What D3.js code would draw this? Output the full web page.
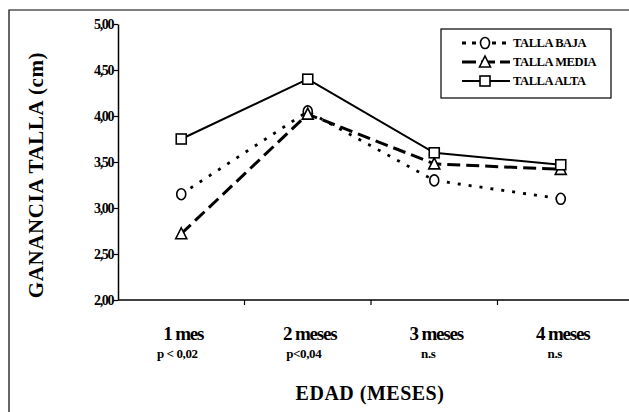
<!DOCTYPE html>
<html><head><meta charset="utf-8">
<script src="https://cdn.jsdelivr.net/npm/d3@7"></script>
<style>
body{margin:0;background:#fff;}
svg text{font-family:"Liberation Serif","Times New Roman","DejaVu Serif",serif !important;font-weight:bold;fill:#000;}
</style></head>
<body><svg id="c" width="629" height="412"></svg>
<script>
const categories = ["1 mes","2 meses","3 meses","4 meses"];
const pLabels = ["p < 0,02","p<0,04","n.s","n.s"];
const tallaBaja = [3.15, 4.05, 3.30, 3.10];
const tallaMedia = [2.72, 4.02, 3.48, 3.42];
const tallaAlta = [3.75, 4.40, 3.60, 3.47];
const yTicks = [2.0, 2.5, 3.0, 3.5, 4.0, 4.5, 5.0];
const seriesNames = ["TALLA BAJA","TALLA MEDIA","TALLA ALTA"];

const series = [
  {name: seriesNames[0], values: tallaBaja, dash: "3,8", width: 2.8, marker: "circle"},
  {name: seriesNames[1], values: tallaMedia, dash: "13,6", width: 3, marker: "triangle"},
  {name: seriesNames[2], values: tallaAlta, dash: null, width: 2, marker: "square"}
];

const FONT = "'Liberation Serif','Times New Roman','DejaVu Serif',serif";
const svg = d3.select("#c").attr("font-family", FONT);
const mLeft = 118, mRight = 624, mTop = 24, mBottom = 300;

const x = d3.scaleBand().domain(categories).range([mLeft, mRight]).padding(0);
const y = d3.scaleLinear().domain([2, 5]).range([mBottom, mTop]);

// outer frame (top and left)
svg.append("path").attr("d", `M9,412 L9,10 L629,10`).attr("fill","none").attr("stroke","#000").attr("stroke-width",1.2);

// y axis
const fmt = d => d.toFixed(2).replace(".", ",");
const ya = svg.append("g").attr("transform", `translate(${mLeft},0)`)
  .call(d3.axisLeft(y).tickValues(yTicks).tickFormat(fmt).tickSize(4).tickSizeOuter(0));
ya.attr("font-family", FONT).attr("font-size", 14);
ya.select(".domain").attr("stroke","#000").attr("stroke-width",1.5);
ya.selectAll(".tick line").attr("stroke","#000").attr("stroke-width",1.2);
ya.selectAll(".tick text").attr("font-size", 14).attr("letter-spacing", -1.4).attr("x", -5)
  .attr("font-weight","bold");

// x axis
svg.append("line").attr("x1", mLeft).attr("x2", 629).attr("y1", mBottom).attr("y2", mBottom)
  .attr("stroke","#000").attr("stroke-width",1.5);
svg.selectAll(".bt").data(categories.slice(1)).enter().append("line")
  .attr("x1", d => x(d)).attr("x2", d => x(d)).attr("y1", mBottom).attr("y2", mBottom + 5)
  .attr("stroke","#000").attr("stroke-width",1.2);

// category labels
svg.selectAll(".cl").data(categories).enter().append("text")
  .attr("x", d => x(d) + x.bandwidth()/2 + 2).attr("y", 340)
  .attr("text-anchor","middle").attr("font-size", 19).attr("letter-spacing", -1.2)
  .attr("font-weight","bold").text(d => d);
svg.selectAll(".pl").data(pLabels).enter().append("text")
  .attr("x", (d,i) => x(categories[i]) + x.bandwidth()/2 + (i < 2 ? -4 : -6)).attr("y", 358)
  .attr("text-anchor","middle").attr("font-size", 13).attr("letter-spacing", -0.4)
  .attr("font-weight","bold").text(d => d);

// axis titles
svg.append("text").attr("x", 370).attr("y", 400).attr("text-anchor","middle")
  .attr("font-size", 20).attr("letter-spacing", 0.5).attr("font-weight","bold").text("EDAD (MESES)");
svg.append("text").attr("transform","translate(43,175) rotate(-90)").attr("text-anchor","middle")
  .attr("font-size", 21).attr("letter-spacing", 0.6).attr("font-weight","bold").text("GANANCIA TALLA (cm)");

// lines
const cx = c => x(c) + x.bandwidth()/2;
const line = d3.line().x((d,i) => cx(categories[i])).y(d => y(d));

function drawMarker(g, type, px, py) {
  if (type === "circle") {
    g.append("ellipse").attr("cx", px).attr("cy", py).attr("rx", 4.5).attr("ry", 5.5)
      .attr("fill","#fff").attr("stroke","#000").attr("stroke-width",1.6);
  } else if (type === "triangle") {
    g.append("path").attr("d", `M${px},${py-6} L${px+5.5},${py+5} L${px-5.5},${py+5} Z`)
      .attr("fill","#fff").attr("stroke","#000").attr("stroke-width",1.6);
  } else {
    g.append("rect").attr("x", px-5).attr("y", py-5).attr("width",10).attr("height",10)
      .attr("fill","#fff").attr("stroke","#000").attr("stroke-width",1.6);
  }
}

series.forEach(s => {
  svg.append("path").datum(s.values).attr("d", line)
    .attr("fill","none").attr("stroke","#000").attr("stroke-width", s.width)
    .attr("stroke-dasharray", s.dash).attr("stroke-linecap", s.dash ? "butt" : "round");
});
series.forEach(s => {
  const g = svg.append("g");
  s.values.forEach((v,i) => drawMarker(g, s.marker, cx(categories[i]), y(v)));
});

// legend
const lg = svg.append("g");
lg.append("rect").attr("x", 441).attr("y", 29).attr("width", 170).attr("height", 69)
  .attr("fill","#fff").attr("stroke","#000").attr("stroke-width",1.2);
const ly = [43, 62, 81];
const legendDash = ["4,6", "14,5", null];
series.forEach((s,i) => {
  lg.append("line").attr("x1", 462).attr("x2", 510).attr("y1", ly[i]).attr("y2", ly[i])
    .attr("stroke","#000").attr("stroke-width", s.width).attr("stroke-dasharray", legendDash[i]);
  drawMarker(lg, s.marker, 485, ly[i]);
  lg.append("text").attr("x", 513).attr("y", ly[i] + 4).attr("font-size", 12.5)
    .attr("letter-spacing", -0.4).attr("font-weight","bold").text(s.name);
});
</script></body></html>
